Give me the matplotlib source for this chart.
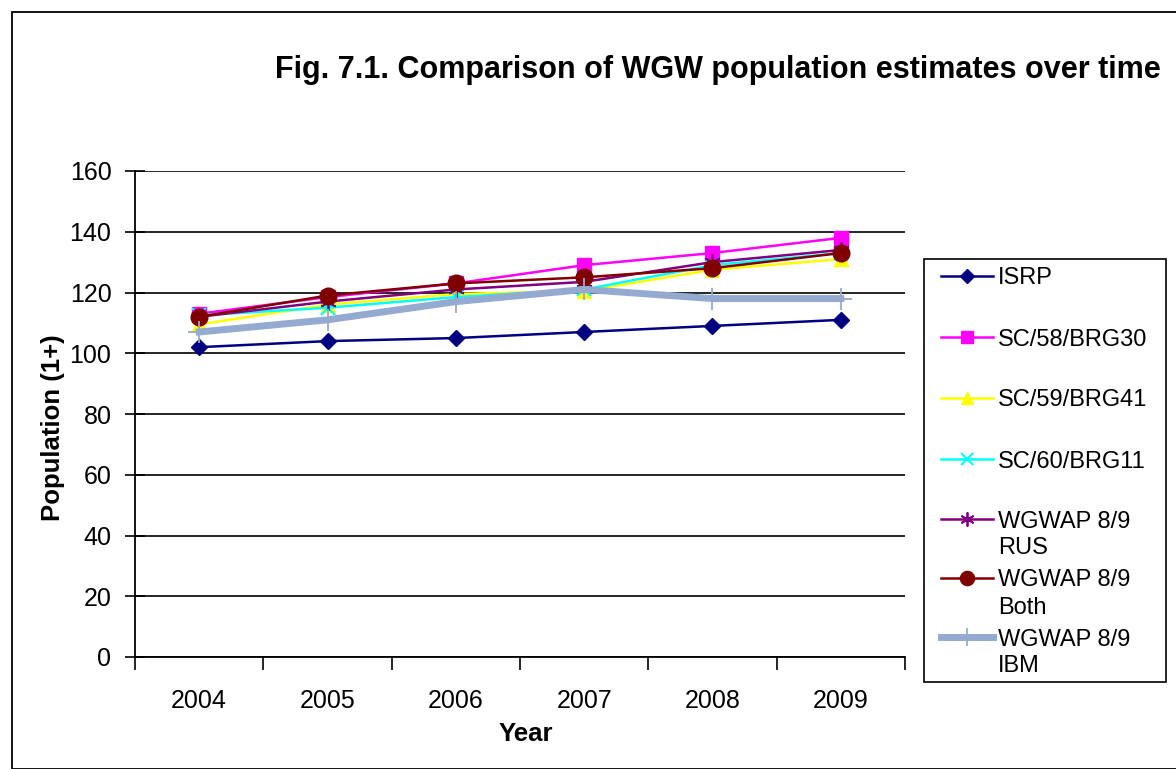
import matplotlib.pyplot as plt
from matplotlib.patches import Rectangle
from matplotlib.lines import Line2D

plt.rcParams['font.family'] = ['Liberation Sans', 'DejaVu Sans']

# data
years = ["2004", "2005", "2006", "2007", "2008", "2009"]
isrp = [102, 104, 105, 107, 109, 111]
sc58_brg30 = [113, 118.5, 123, 129, 133, 138]
sc59_brg41 = [109.5, 116, 119.5, 120.5, 127.5, 131]
sc60_brg11 = [112.5, 115, 118.5, 121, 129, 133]
wgwap_rus = [112, 117, 121, 123.5, 130, 134]
wgwap_both = [112, 119, 123, 125, 128, 133]
wgwap_ibm = [107, 111, 117, 121, 118, 118]

series = [
    ("ISRP", isrp, dict(color="#000080", marker="D", ms=8, lw=1.8)),
    ("SC/58/BRG30", sc58_brg30, dict(color="#FF00FF", marker="s", ms=10, lw=1.8)),
    ("SC/59/BRG41", sc59_brg41, dict(color="#FFFF00", marker="^", ms=10, lw=1.8)),
    ("SC/60/BRG11", sc60_brg11, dict(color="#00FFFF", marker="x", ms=10, mew=1.5, lw=1.8)),
    ("WGWAP 8/9\nRUS", wgwap_rus, dict(color="#800080", marker=(6, 2, 0), ms=12, mew=1.3, lw=1.8)),
    ("WGWAP 8/9\nBoth", wgwap_both, dict(color="#800000", marker="o", ms=12, lw=1.8)),
    ("WGWAP 8/9\nIBM", wgwap_ibm, dict(color="#95AAD0", marker="+", ms=16, mew=1.3, lw=5)),
]

W, H = 1176, 769
fig = plt.figure(figsize=(W / 100, H / 100), dpi=100)
ax = fig.add_axes([135 / W, 1 - 657 / H, 770 / W, 486 / H])

x = list(range(len(years)))
for label, vals, style in series:
    ax.plot(x, vals, label=label, **style)

ax.set_xlim(-0.5, len(years) - 0.5)
ax.set_ylim(0, 160)
ax.set_yticks(range(0, 161, 20))
ax.yaxis.grid(True, color="black", lw=1.2)
ax.set_axisbelow(True)

ax.set_xticks(x)
ax.set_xticklabels(years)
ax.set_xticks([i - 0.5 for i in range(len(years) + 1)], minor=True)
ax.tick_params(axis="x", which="major", length=0, pad=23, labelsize=18)
ax.tick_params(axis="x", which="minor", length=9, width=1.2, color="black")
ax.tick_params(axis="y", direction="inout", length=14, width=1.2, labelsize=18, pad=10)

for side in ["top", "right"]:
    ax.spines[side].set_visible(False)
for side in ["left", "bottom"]:
    ax.spines[side].set_linewidth(1.3)
    ax.spines[side].set_color("black")

ax.set_xlabel("Year", fontsize=18.5, fontweight="bold")
ax.xaxis.set_label_coords(0.508, -0.134)
ax.set_ylabel("Population (1+)", fontsize=18.5, fontweight="bold")
ax.yaxis.set_label_coords(-0.091, 0.472)

fig.text(718 / W, 1 - 70 / H, "Fig. 7.1. Comparison of WGW population estimates over time",
         ha="center", va="center", fontsize=22, fontweight="bold")

# legend drawn Excel-style: equal row spacing, handle next to first text line
fig.patches.append(Rectangle((924 / W, 1 - 682 / H), 242 / W, 423 / H, transform=fig.transFigure,
                             fill=False, edgecolor="black", lw=1.2))
row_y = [276, 337, 398, 459, 519, 578, 637]
for (label, vals, style), ry in zip(series, row_y):
    yy = 1 - ry / H
    st = dict(style)
    mk = st.pop("marker")
    ms = st.pop("ms")
    mew = st.pop("mew", 1.0)
    col = st["color"]
    fig.add_artist(Line2D([941 / W, 993 / W], [yy, yy], color=col, lw=st["lw"]))
    fig.add_artist(Line2D([967 / W], [yy], color=col, marker=mk, ms=ms * 0.85, mew=mew, ls="none"))
    for k, line in enumerate(label.split("\n")):
        fig.text(998 / W, 1 - (ry + 27 * k) / H, line, fontsize=17,
                 ha="left", va="center_baseline")

# outer chart border
fig.patches.append(Rectangle((12 / W, 0), 1.1, 1 - 12 / H, transform=fig.transFigure,
                             fill=False, edgecolor="black", lw=1.3, clip_on=False))

fig.savefig("out.png", dpi=100)
